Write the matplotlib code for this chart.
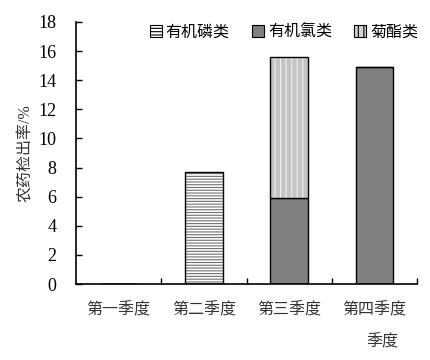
import numpy as np
import matplotlib
matplotlib.use("Agg")
import matplotlib.pyplot as plt
from matplotlib.patches import Patch

plt.rcParams['font.family'] = ['Liberation Serif', 'Noto Sans CJK SC']
plt.rcParams['hatch.linewidth'] = 0.8

# 数据
quarters = ["第一季度", "第二季度", "第三季度", "第四季度"]
series_names = ["有机磷类", "有机氯类", "菊酯类"]
organophos = [0, 7.7, 0, 0]
organochlor = [0, 0, 5.9, 14.9]
pyrethroid = [0, 0, 9.7, 0]

fig = plt.figure(figsize=(4.3, 3.6), dpi=100)
ax = fig.add_axes([0.177, 0.211, 0.793, 0.728])

x = np.arange(len(quarters))
w = 0.44
op = np.array(organophos)
oc = np.array(organochlor)
py = np.array(pyrethroid)

# 有机磷类: horizontal lines
ax.bar(x, op, w, color="white", edgecolor="#707070", hatch="------", linewidth=0)
ax.bar(x, op, w, color="none", edgecolor="black", linewidth=1.0)
# 有机氯类: gray
ax.bar(x, oc, w, color="#808080", edgecolor="black", linewidth=1.0)
# 菊酯类: dotted gray with light stripes
ax.bar(x, py, w, bottom=oc, color="#c4c4c4", edgecolor="#f0f0f0", hatch="|||", linewidth=0)
ax.bar(x, py, w, bottom=oc, color="none", edgecolor="black", linewidth=1.0)

ax.set_xlim(-0.5, 3.5)
ax.set_ylim(0, 18)
ax.set_yticks(range(0, 19, 2))
ax.set_xticks(x)
ax.set_xticklabels(quarters, fontsize=11.5, color="#333333")
ax.set_xticks([0.5, 1.5, 2.5, 3.5], minor=True)
ax.tick_params(axis="x", which="major", length=0, pad=13)
ax.tick_params(axis="x", which="minor", direction="in", length=4.5, width=1)
ax.tick_params(axis="y", direction="in", length=4.5, width=1, labelsize=13, pad=14)
for s in ["top", "right"]:
    ax.spines[s].set_visible(False)
for s in ["left", "bottom"]:
    ax.spines[s].set_linewidth(1.2)

ax.set_ylabel("农药检出率/%", fontsize=11.5, color="#333333", labelpad=3)
fig.text(0.89, 0.05, "季度", fontsize=11.5, color="#333333", ha="center", va="center")

handles = [
    Patch(facecolor="white", edgecolor="black", hatch="-----", linewidth=0.8),
    Patch(facecolor="#808080", edgecolor="black", linewidth=0.8),
    Patch(facecolor="#d4d4d4", edgecolor="black", hatch="|||", linewidth=0.8),
]
ax.legend(handles, series_names, loc="upper center", bbox_to_anchor=(0.61, 1.045),
          ncol=3, frameon=False, fontsize=11.5, handlelength=0.75, handleheight=0.75,
          handletextpad=0.25, columnspacing=1.4)

fig.savefig("out.png", dpi=100)
